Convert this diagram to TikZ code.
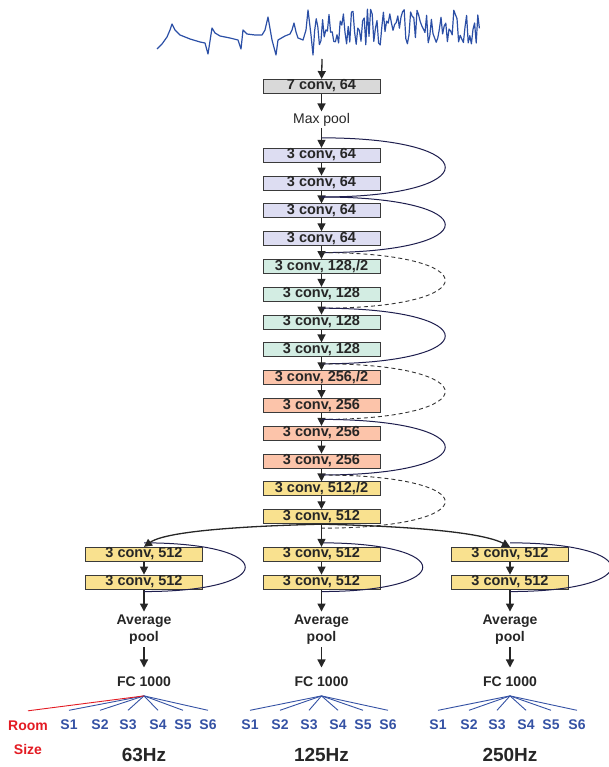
\documentclass[tikz,border=0pt]{standalone}
\usepackage{fontspec}
\setmainfont{Liberation Sans}
\usepackage{tikz}
\usetikzlibrary{calc,positioning}
\usetikzlibrary{arrows.meta}
\definecolor{boxgray}{HTML}{D9D9D9}
\definecolor{boxlav}{HTML}{DDDDF2}
\definecolor{boxgreen}{HTML}{D3EDE3}
\definecolor{boxsalmon}{HTML}{FCC4AA}
\definecolor{boxyellow}{HTML}{F9E18F}
\definecolor{boxline}{HTML}{3A3A3A}
\definecolor{skipcol}{HTML}{1E1E4E}
\definecolor{waveblue}{HTML}{2B4FA6}
\definecolor{labelblue}{HTML}{3552A4}
\definecolor{labelred}{HTML}{E31B23}
\tikzset{
conv_box/.style={rectangle, draw=boxline, line width=0.9pt, minimum width=117pt, minimum height=14pt, inner sep=0pt, text height=10pt, text depth=3pt, text=black!85, font=\fontsize{14.5}{16}\selectfont\bfseries},
pool_text/.style={inner sep=1.5pt, text height=10pt, text depth=3pt, text=black!85, font=\fontsize{14}{16}\selectfont},
avg_text/.style={inner sep=3pt, align=center, font=\fontsize{14}{17}\selectfont\bfseries, text=black!85},
fc_text/.style={inner xsep=2pt, inner ysep=9pt, text height=10pt, text depth=0pt, font=\fontsize{14}{16}\selectfont\bfseries, text=black!85},
s_label/.style={inner xsep=1pt, inner ysep=9pt, text height=10pt, text depth=0pt, font=\fontsize{14}{16}\selectfont\bfseries, text=labelblue},
room_label/.style={s_label, text=labelred},
hz_text/.style={font=\fontsize{19}{21}\selectfont\bfseries, text=black!85},
flow_arrow/.style={draw=black!85, line width=1.3pt, -{Triangle[length=8pt, width=8pt]}},
skip_line/.style={draw=skipcol, line width=1pt},
skip_dashed/.style={draw=black!80, line width=0.9pt, dash pattern=on 4pt off 3pt},
fan_blue/.style={draw=labelblue, line width=0.9pt},
fan_red/.style={draw=labelred, line width=0.9pt},
wave_line/.style={draw=waveblue, line width=1.2pt, line join=round}
}

\begin{document}
\begin{tikzpicture}[x=1pt, y=-1pt]
    \useasboundingbox (0,0) rectangle (609,767);
    % input signal
    \pgfmathsetseed{7}
    \draw[wave_line] (157,49) -- (162,44) -- (167,37) -- (170,30) -- (172,24) -- (175,30) -- (180,35) -- (190,39) -- (200,42) -- (205,43) -- (208,54) -- (212,28) -- (215,33) -- (220,36) -- (230,38) -- (238,40) -- (241,49) -- (243,30) -- (247,34) -- (255,35) -- (262,35) -- (265,30) -- (268,17) -- (272,40) -- (276,55) -- (278,40) -- (285,36) -- (290,34) -- (292,30) -- (294,23) -- (296,32) -- (298,38) -- (303,40) -- (306,30) -- (308,10) -- (311,35) -- (313,55)
        \foreach \k in {1,...,104} { -- ({313+1.6*\k},{27+18*rand}) };
    \coordinate (wave_end) at (322,59);

    % main column
    \node[conv_box, fill=boxgray] (conv_7) at (321.5,86.5) {7 conv, 64};
    \node[pool_text] (max_pool) [below=17.5pt of conv_7] {Max pool};
    \node[conv_box, fill=boxlav] (c_1) [below=20pt of max_pool] {3 conv, 64};
    \node[conv_box, fill=boxlav] (c_2) [below=12.9pt of c_1] {3 conv, 64};
    \node[conv_box, fill=boxlav] (c_3) [below=12.9pt of c_2] {3 conv, 64};
    \node[conv_box, fill=boxlav] (c_4) [below=12.9pt of c_3] {3 conv, 64};
    \node[conv_box, fill=boxgreen] (c_5) [below=12.9pt of c_4] {3 conv, 128,/2};
    \node[conv_box, fill=boxgreen] (c_6) [below=12.9pt of c_5] {3 conv, 128};
    \node[conv_box, fill=boxgreen] (c_7) [below=12.9pt of c_6] {3 conv, 128};
    \node[conv_box, fill=boxgreen] (c_8) [below=12.9pt of c_7] {3 conv, 128};
    \node[conv_box, fill=boxsalmon] (c_9) [below=12.9pt of c_8] {3 conv, 256,/2};
    \node[conv_box, fill=boxsalmon] (c_10) [below=12.9pt of c_9] {3 conv, 256};
    \node[conv_box, fill=boxsalmon] (c_11) [below=12.9pt of c_10] {3 conv, 256};
    \node[conv_box, fill=boxsalmon] (c_12) [below=12.9pt of c_11] {3 conv, 256};
    \node[conv_box, fill=boxyellow] (c_13) [below=12.9pt of c_12] {3 conv, 512,/2};
    \node[conv_box, fill=boxyellow] (c_14) [below=12.9pt of c_13] {3 conv, 512};

    \draw[flow_arrow] (wave_end) -- (conv_7);
    \draw[flow_arrow] (conv_7) -- (max_pool);
    \draw[flow_arrow] (max_pool) -- (c_1);
    \foreach \i [evaluate=\i as \j using int(\i+1)] in {1,...,13}
        \draw[flow_arrow] (c_\i) -- (c_\j);

    % shortcut connections
    \coordinate (j_0) at ($(max_pool.south)!0.5!(c_1.north)$);
    \coordinate (j_1) at ($(c_2.south)!0.5!(c_3.north)$);
    \coordinate (j_2) at ($(c_4.south)!0.5!(c_5.north)$);
    \coordinate (j_3) at ($(c_6.south)!0.5!(c_7.north)$);
    \coordinate (j_4) at ($(c_8.south)!0.5!(c_9.north)$);
    \coordinate (j_5) at ($(c_10.south)!0.5!(c_11.north)$);
    \coordinate (j_6) at ($(c_12.south)!0.5!(c_13.north)$);
    \coordinate (j_7) at ([yshift=-4pt]c_14.south);
    \foreach \a/\b/\s in {0/1/skip_line, 1/2/skip_line, 2/3/skip_dashed, 3/4/skip_line, 4/5/skip_dashed, 5/6/skip_line, 6/7/skip_dashed}
        \draw[\s] (j_\a) .. controls +(165,0) and +(165,0) .. (j_\b);

    % three heads
    \foreach \col/\x/\hz in {l/144/63Hz, m/321.5/125Hz, r/510/250Hz} {
        \node[conv_box, fill=boxyellow] (\col_1) at (\x,554.3) {3 conv, 512};
        \node[conv_box, fill=boxyellow] (\col_2) [below=12.9pt of \col_1] {3 conv, 512};
        \node[avg_text] (\col_pool) [below=22pt of \col_2] {Average\\pool};
        \node[fc_text] (\col_fc) [below=20pt of \col_pool] {FC 1000};
        \node[hz_text] (\col_hz) at (\x,755) {\hz};
        \draw[flow_arrow] (\col_1) -- (\col_2);
        \draw[flow_arrow] (\col_2) -- (\col_pool);
        \draw[flow_arrow] (\col_pool) -- (\col_fc);
        \coordinate (\col_in) at ([yshift=4pt]\col_1.north);
        \coordinate (\col_out) at ([yshift=-2pt]\col_2.south);
        \draw[skip_line] (\col_in) .. controls +(135,0) and +(135,0) .. (\col_out);
    }
    \draw[flow_arrow] (c_14.south) .. controls (290,525) and (170,528) .. (l_1.north);
    \draw[flow_arrow] (c_14.south) -- (m_1.north);
    \draw[flow_arrow] (c_14.south) .. controls (354,525) and (474,528) .. (r_1.north);

    % outputs
    \foreach \col/\xs in {l/{69,100,128,158,183,208}, m/{250,280,309,338,363,388}, r/{438,469,497,526,551,577}} {
        \foreach \sx [count=\n] in \xs {
            \node[s_label] (\col_s\n) at (\sx,724.5) {S\n};
            \draw[fan_blue] (\col_fc.south) -- (\col_s\n.north);
        }
    }
    \node[room_label] (room) at (28,725) {Room};
    \node[room_label] (size) at (28,749) {Size};
    \draw[fan_red] (l_fc.south) -- (room.north);
\end{tikzpicture}
\end{document}
